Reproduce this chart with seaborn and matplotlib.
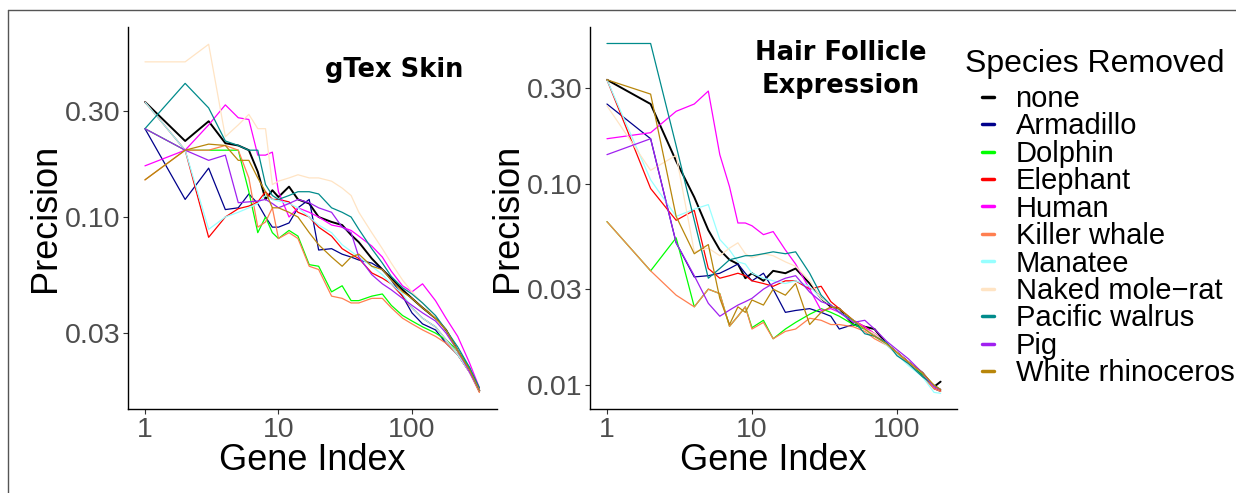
import numpy as np
import pandas as pd
import matplotlib
matplotlib.use("Agg")
import matplotlib.pyplot as plt
from matplotlib.lines import Line2D
import seaborn as sns

# DATA
# -----------------------------------------------------------------------------
species = ["none", "Armadillo", "Dolphin", "Elephant", "Human", "Killer whale",
           "Manatee", "Naked mole\u2212rat", "Pacific walrus", "Pig", "White rhinoceros"]
colors = ["#000000", "#00008B", "#00FF00", "#FF0000", "#FF00FF", "#FF7F50",
          "#97FFFF", "#FFE4C4", "#008B8B", "#A020F0", "#B8860B"]

# gTex Skin
left_k = [1, 2, 3, 4, 5, 6, 7, 8, 9, 10, 12, 14, 17, 20, 25, 30, 35, 40, 50, 60,
          70, 85, 100, 120, 150, 180, 220, 270, 320]
left_none = [0.33, 0.22, 0.27, 0.215, 0.21, 0.20, 0.16, 0.12, 0.132, 0.123,
             0.137, 0.12, 0.115, 0.10, 0.095, 0.092, 0.083, 0.077, 0.065, 0.058,
             0.053, 0.047, 0.043, 0.039, 0.035, 0.031, 0.025, 0.0205, 0.0165]
left_armadillo = [0.25, 0.12, 0.166, 0.108, 0.11, 0.127, 0.115, 0.10, 0.09, 0.09,
                  0.094, 0.11, 0.12, 0.071, 0.072, 0.068, 0.066, 0.064, 0.062, 0.058,
                  0.052, 0.044, 0.037, 0.033, 0.031, 0.027, 0.024, 0.020, 0.0165]
left_dolphin = [0.25, 0.20, 0.20, 0.20, 0.20, 0.13, 0.085, 0.10, 0.085, 0.08,
                0.087, 0.082, 0.061, 0.060, 0.046, 0.049, 0.042, 0.042, 0.044, 0.045,
                0.040, 0.036, 0.034, 0.032, 0.030, 0.028, 0.025, 0.021, 0.0163]
left_elephant = [0.33, 0.20, 0.081, 0.10, 0.109, 0.112, 0.117, 0.13, 0.12, 0.12,
                 0.117, 0.105, 0.10, 0.09, 0.082, 0.072, 0.068, 0.065, 0.056, 0.053,
                 0.05, 0.044, 0.039, 0.035, 0.032, 0.028, 0.024, 0.020, 0.0163]
left_human = [0.17, 0.20, 0.26, 0.32, 0.28, 0.275, 0.19, 0.19, 0.196, 0.13,
              0.10, 0.11, 0.105, 0.10, 0.092, 0.09, 0.087, 0.082, 0.074, 0.066,
              0.057, 0.049, 0.046, 0.050, 0.042, 0.035, 0.029, 0.022, 0.017]
left_killer = [0.147, 0.20, 0.20, 0.21, 0.20, 0.15, 0.09, 0.095, 0.11, 0.08,
               0.085, 0.08, 0.060, 0.058, 0.044, 0.043, 0.041, 0.041, 0.043, 0.043,
               0.039, 0.035, 0.033, 0.031, 0.029, 0.027, 0.024, 0.020, 0.0162]
left_manatee = [0.33, 0.20, 0.088, 0.10, 0.105, 0.11, 0.115, 0.125, 0.12, 0.118,
                0.115, 0.11, 0.10, 0.092, 0.085, 0.075, 0.07, 0.066, 0.060, 0.055,
                0.05, 0.045, 0.039, 0.035, 0.032, 0.028, 0.024, 0.020, 0.0165]
left_molerat = [0.50, 0.50, 0.60, 0.23, 0.26, 0.29, 0.25, 0.25, 0.14, 0.145,
                0.15, 0.155, 0.15, 0.15, 0.145, 0.135, 0.125, 0.105, 0.085, 0.072,
                0.062, 0.052, 0.046, 0.041, 0.035, 0.030, 0.025, 0.020, 0.0165]
left_walrus = [0.25, 0.40, 0.31, 0.22, 0.21, 0.20, 0.20, 0.14, 0.125, 0.12,
               0.125, 0.13, 0.13, 0.127, 0.11, 0.105, 0.10, 0.088, 0.072, 0.062,
               0.054, 0.048, 0.045, 0.041, 0.036, 0.031, 0.026, 0.021, 0.017]
left_pig = [0.25, 0.20, 0.18, 0.19, 0.116, 0.117, 0.118, 0.12, 0.115, 0.11,
            0.115, 0.12, 0.116, 0.11, 0.105, 0.09, 0.085, 0.066, 0.055, 0.050,
            0.047, 0.043, 0.040, 0.037, 0.034, 0.030, 0.025, 0.020, 0.0165]
left_rhino = [0.147, 0.20, 0.213, 0.21, 0.18, 0.18, 0.15, 0.13, 0.11, 0.11,
              0.105, 0.10, 0.085, 0.075, 0.066, 0.06, 0.066, 0.068, 0.060, 0.058,
              0.052, 0.046, 0.043, 0.039, 0.035, 0.031, 0.025, 0.0205, 0.0165]

# Hair Follicle Expression
right_k = [1, 2, 3, 4, 5, 6, 7, 8, 9, 10, 12, 14, 17, 20, 25, 30, 35, 40, 50, 60,
           70, 85, 100, 120, 150, 180, 200]
right_none = [0.33, 0.25, 0.13, 0.086, 0.059, 0.047, 0.042, 0.040, 0.034, 0.036,
              0.033, 0.037, 0.036, 0.038, 0.032, 0.027, 0.0245, 0.024, 0.020, 0.0195,
              0.019, 0.016, 0.0145, 0.013, 0.0115, 0.0098, 0.0104]
right_armadillo = [0.25, 0.168, 0.051, 0.0345, 0.035, 0.036, 0.038, 0.040, 0.036, 0.033,
                   0.036, 0.030, 0.023, 0.0235, 0.024, 0.023, 0.022, 0.019, 0.020, 0.019,
                   0.018, 0.016, 0.0145, 0.013, 0.0112, 0.0096, 0.0093]
right_dolphin = [0.065, 0.037, 0.054, 0.0245, 0.030, 0.0285, 0.0196, 0.022, 0.0245, 0.0193,
                 0.021, 0.017, 0.019, 0.0205, 0.0225, 0.024, 0.023, 0.022, 0.020, 0.019,
                 0.0175, 0.016, 0.0145, 0.013, 0.0113, 0.0097, 0.0094]
right_elephant = [0.33, 0.095, 0.066, 0.074, 0.038, 0.034, 0.035, 0.036, 0.035, 0.033,
                  0.032, 0.031, 0.033, 0.033, 0.030, 0.031, 0.026, 0.024, 0.021, 0.0195,
                  0.018, 0.016, 0.0145, 0.013, 0.0115, 0.0097, 0.0094]
right_human = [0.168, 0.18, 0.23, 0.25, 0.29, 0.14, 0.097, 0.064, 0.064, 0.062,
               0.056, 0.058, 0.047, 0.040, 0.030, 0.0235, 0.024, 0.023, 0.021, 0.0195,
               0.018, 0.016, 0.0145, 0.013, 0.0115, 0.0098, 0.0095]
right_killer = [0.065, 0.037, 0.028, 0.0245, 0.030, 0.0285, 0.0196, 0.022, 0.0245, 0.019,
                0.0205, 0.017, 0.0185, 0.019, 0.0215, 0.021, 0.020, 0.020, 0.0195, 0.0185,
                0.017, 0.0158, 0.0143, 0.0128, 0.011, 0.0096, 0.0093]
right_manatee = [0.33, 0.105, 0.069, 0.075, 0.079, 0.053, 0.047, 0.041, 0.040, 0.036,
                 0.034, 0.033, 0.032, 0.033, 0.031, 0.027, 0.025, 0.023, 0.021, 0.019,
                 0.0175, 0.0158, 0.0142, 0.0125, 0.011, 0.0092, 0.0091]
right_molerat = [0.245, 0.117, 0.139, 0.046, 0.048, 0.044, 0.048, 0.051, 0.045, 0.043,
                 0.045, 0.044, 0.041, 0.039, 0.033, 0.027, 0.025, 0.023, 0.021, 0.019,
                 0.018, 0.016, 0.0145, 0.013, 0.0115, 0.0098, 0.0095]
right_walrus = [0.50, 0.50, 0.155, 0.066, 0.034, 0.038, 0.042, 0.043, 0.044, 0.044,
                0.045, 0.046, 0.045, 0.046, 0.036, 0.028, 0.025, 0.023, 0.021, 0.018,
                0.0175, 0.0163, 0.014, 0.0128, 0.011, 0.0100, 0.0095]
right_pig = [0.14, 0.168, 0.051, 0.035, 0.0255, 0.022, 0.0236, 0.025, 0.026, 0.027,
             0.030, 0.032, 0.034, 0.035, 0.029, 0.026, 0.025, 0.023, 0.0205, 0.021,
             0.019, 0.0165, 0.015, 0.0135, 0.0115, 0.0098, 0.0095]
right_rhino = [0.33, 0.28, 0.069, 0.045, 0.050, 0.027, 0.020, 0.0245, 0.023, 0.0265,
               0.025, 0.030, 0.028, 0.032, 0.020, 0.023, 0.0245, 0.024, 0.021, 0.019,
               0.0175, 0.016, 0.0145, 0.013, 0.0115, 0.0100, 0.0095]

left_series = [left_none, left_armadillo, left_dolphin, left_elephant, left_human, left_killer,
               left_manatee, left_molerat, left_walrus, left_pig, left_rhino]
right_series = [right_none, right_armadillo, right_dolphin, right_elephant, right_human, right_killer,
                right_manatee, right_molerat, right_walrus, right_pig, right_rhino]


def long_table(k_values, series_list):
    frames = []
    for name, values in zip(species, series_list):
        frames.append(pd.DataFrame({"gene_index": k_values, "precision": values, "species": name}))
    return pd.concat(frames, ignore_index=True)


left_df = long_table(left_k, left_series)
right_df = long_table(right_k, right_series)

palette = dict(zip(species, colors))
widths = {s: (1.4 if s == "none" else 0.9) for s in species}

# STYLE
# -----------------------------------------------------------------------------
sns.set_theme(style="white")
plt.rcParams["font.family"] = ["Liberation Sans", "DejaVu Sans"]
plt.rcParams["text.color"] = "black"

fig = plt.figure(figsize=(12.36, 4.93), dpi=100)
ax_left = fig.add_axes([128 / 1236, 1 - 409 / 493, 369 / 1236, 382 / 493])
ax_right = fig.add_axes([590 / 1236, 1 - 409 / 493, 367 / 1236, 382 / 493])

panels = [
    (ax_left, left_df, (10 ** -0.127, 10 ** 2.637), (10 ** -1.865, 10 ** -0.144),
     [0.03, 0.10, 0.30], "gTex Skin", (0.721, 0.887)),
    (ax_right, right_df, (10 ** -0.117, 10 ** 2.414), (10 ** -2.119, 10 ** -0.219),
     [0.01, 0.03, 0.10, 0.30], "Hair Follicle\nExpression", (0.684, 0.889)),
]

for ax, df, xlim, ylim, yticks, title, title_pos in panels:
    sns.lineplot(data=df, x="gene_index", y="precision", hue="species", hue_order=species,
                 palette=palette, size="species", sizes=widths, estimator=None,
                 legend=False, ax=ax)
    ax.set_xscale("log")
    ax.set_yscale("log")
    ax.set_xlim(*xlim)
    ax.set_ylim(*ylim)
    ax.set_xticks([1, 10, 100])
    ax.set_xticklabels(["1", "10", "100"])
    ax.set_yticks(yticks)
    ax.set_yticklabels(["%.2f" % v for v in yticks])
    ax.minorticks_off()
    ax.tick_params(axis="both", which="major", length=3.5, width=0.8, color="#333333",
                   labelsize=20.5, labelcolor="#4D4D4D", pad=2, direction="out",
                   bottom=True, left=True)
    for side in ["top", "right"]:
        ax.spines[side].set_visible(False)
    for side in ["left", "bottom"]:
        ax.spines[side].set_color("black")
        ax.spines[side].set_linewidth(1.0)
    ax.set_xlabel("Gene Index", fontsize=26, color="black")
    ax.set_ylabel("Precision", fontsize=26, color="black")
    ax.xaxis.set_label_coords(0.5, (409 - 461) / 382)
    ax.xaxis.label.set_va("center")
    ax.yaxis.set_label_coords((45 - 128) / 369, 0.5)
    ax.yaxis.label.set_va("center")
    ax.text(title_pos[0], title_pos[1], title, transform=ax.transAxes, ha="center", va="center",
            fontsize=18.5, fontweight="bold", family="DejaVu Sans", color="black",
            linespacing=1.32)

# LEGEND
fig.text(965 / 1236, 1 - 64 / 493, "Species Removed", fontsize=23, ha="left", va="center",
         color="black")
handles = [Line2D([0], [0], color=c, lw=2.5) for c in colors]
fig.legend(handles, species, loc="upper left", bbox_to_anchor=(982 / 1236, 1 - 85 / 493),
           frameon=False, fontsize=21, handlelength=0.4, handletextpad=0.75,
           labelspacing=-0.02, borderpad=0, borderaxespad=0, labelcolor="black")

# outer frame (only the left and top edges fall inside the picture)
fig.add_artist(Line2D([8 / 1236, 8 / 1236], [0, 1 - 10 / 493], transform=fig.transFigure,
                      color="#555555", linewidth=1.0))
fig.add_artist(Line2D([8 / 1236, 1], [1 - 10 / 493, 1 - 10 / 493], transform=fig.transFigure,
                      color="#555555", linewidth=1.0))

fig.savefig("out.png", dpi=100)
plt.close(fig)
